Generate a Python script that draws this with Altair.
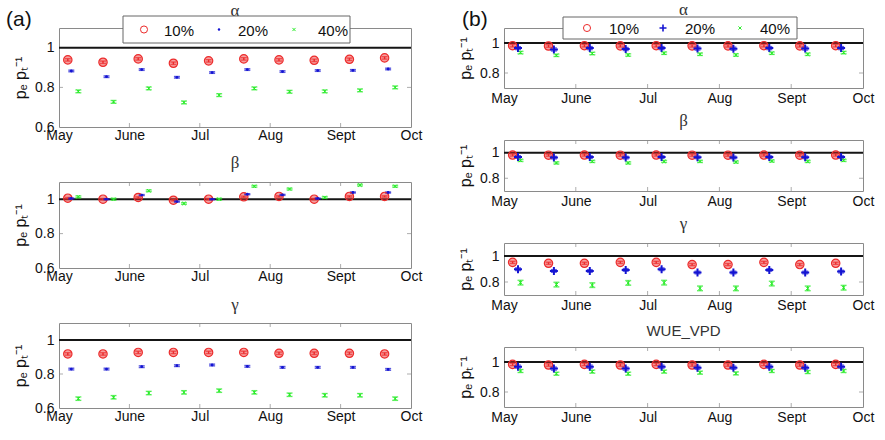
import altair as alt
import pandas as pd

MONTHS = ["May", "June", "Jul", "Aug", "Sept", "Oct"]
SERIES = ["10%", "20%", "40%"]
COLORS = ["#ec2b2b", "#1414d2", "#2cec2c"]
# start of each half-month period, in months after 1 May
PERIODS = [0.0, 0.5, 1.0, 1.5, 2.0, 2.5, 3.0, 3.5, 4.0, 4.5]
OFFSETS_A = [0.125, 0.175, 0.275]
OFFSETS_B = [0.12, 0.195, 0.23]

# ---- (a) ----
A_ALPHA_10 = [0.939, 0.927, 0.944, 0.922, 0.934, 0.944, 0.939, 0.937, 0.942, 0.949]
A_ALPHA_20 = [0.883, 0.854, 0.890, 0.851, 0.875, 0.890, 0.880, 0.885, 0.886, 0.893]
A_ALPHA_40 = [0.780, 0.727, 0.795, 0.724, 0.761, 0.795, 0.778, 0.780, 0.785, 0.800]
A_ALPHA_ERR = [0.006, 0.004, 0.007]

A_BETA_10 = [1.006, 1.000, 1.010, 0.994, 1.000, 1.014, 1.016, 1.000, 1.016, 1.016]
A_BETA_20 = [1.004, 1.000, 1.024, 0.986, 1.000, 1.029, 1.025, 1.004, 1.039, 1.039]
A_BETA_40 = [1.014, 1.000, 1.049, 0.975, 1.000, 1.075, 1.059, 1.010, 1.082, 1.075]
A_BETA_ERR = [0.004, 0.003, 0.005]

A_GAMMA_10 = [0.918, 0.918, 0.927, 0.927, 0.927, 0.927, 0.922, 0.922, 0.922, 0.918]
A_GAMMA_20 = [0.829, 0.829, 0.843, 0.849, 0.853, 0.845, 0.839, 0.839, 0.839, 0.827]
A_GAMMA_40 = [0.655, 0.663, 0.688, 0.692, 0.702, 0.692, 0.678, 0.675, 0.675, 0.655]
A_GAMMA_ERR = [0.007, 0.005, 0.010]

# ---- (b) ----
B_ALPHA_10 = [0.982, 0.980, 0.982, 0.981, 0.982, 0.981, 0.981, 0.982, 0.981, 0.982]
B_ALPHA_20 = [0.966, 0.957, 0.966, 0.960, 0.966, 0.963, 0.962, 0.966, 0.963, 0.966]
B_ALPHA_40 = [0.936, 0.918, 0.930, 0.920, 0.932, 0.925, 0.920, 0.932, 0.925, 0.936]
B_ALPHA_ERR = [0.008, 0.010, 0.008]

B_BETA_10 = [0.982, 0.981, 0.982, 0.981, 0.982, 0.981, 0.981, 0.982, 0.981, 0.982]
B_BETA_20 = [0.966, 0.962, 0.966, 0.962, 0.966, 0.964, 0.963, 0.966, 0.964, 0.966]
B_BETA_40 = [0.940, 0.920, 0.932, 0.920, 0.932, 0.932, 0.927, 0.935, 0.932, 0.940]
B_BETA_ERR = [0.008, 0.010, 0.008]

B_GAMMA_10 = [0.951, 0.944, 0.944, 0.951, 0.951, 0.934, 0.934, 0.951, 0.934, 0.944]
B_GAMMA_20 = [0.898, 0.885, 0.885, 0.893, 0.898, 0.873, 0.873, 0.893, 0.873, 0.880]
B_GAMMA_40 = [0.795, 0.780, 0.776, 0.793, 0.795, 0.751, 0.751, 0.788, 0.751, 0.756]
B_GAMMA_ERR = [0.008, 0.010, 0.018]

B_WUE_10 = [0.984, 0.980, 0.984, 0.980, 0.984, 0.980, 0.980, 0.984, 0.980, 0.984]
B_WUE_20 = [0.969, 0.956, 0.969, 0.956, 0.969, 0.962, 0.962, 0.969, 0.962, 0.969]
B_WUE_40 = [0.940, 0.922, 0.936, 0.922, 0.936, 0.929, 0.924, 0.940, 0.933, 0.940]
B_WUE_ERR = [0.008, 0.010, 0.010]

MONTH_TICKS = [0, 1, 2, 3, 4, 5]
INNER_MONTHS = [1, 2, 3, 4]
YTITLE = "pₑ pₜ⁻¹"

X_PATH = "M-1,-1L1,1M-1,1L1,-1"
PLUS_PATH = "M-1,0L1,0M0,-1L0,1"
ONE = pd.DataFrame({"k": [0]})


def build(v10, v20, v40, errs, offsets):
    rows = []
    for s, vals, e, off, c in zip(SERIES, [v10, v20, v40], errs, offsets, COLORS):
        for p, v in zip(PERIODS, vals):
            rows.append(dict(series=s, x=p + off, y=v, lo=v - e, hi=v + e, col=c))
    return pd.DataFrame(rows)


def legend_layers(box, sym_x, lab_x, cy, styles):
    """Legend box drawn as an annotation on top of the first panel."""
    x0, x1, y0, y1 = box
    layers = [alt.Chart(ONE).mark_rect(fill="white", stroke="#666", strokeWidth=1).encode(
        x=alt.value(x0), x2=alt.value(x1), y=alt.value(y0), y2=alt.value(y1))]
    for s, c, sx, lx, st in zip(SERIES, COLORS, sym_x, lab_x, styles):
        shape, size, filled, sw = st
        layers.append(alt.Chart(ONE).mark_point(shape=shape, size=size, color=c, filled=filled,
                                                strokeWidth=sw, opacity=1).encode(
            x=alt.value(sx), y=alt.value(cy)))
        layers.append(alt.Chart(ONE).mark_text(text=s, align="left", baseline="middle",
                                               font="Liberation Sans", fontSize=15, color="#111").encode(
            x=alt.value(lx), y=alt.value(cy + 1)))
    return layers


def panel(df, title, w, h, ydom, yvals, title_y, title_font, styles, lpad, extra=()):
    xs = alt.Scale(domain=[0, 5], nice=False, zero=False)
    ys = alt.Scale(domain=ydom, nice=False, zero=False)
    xaxis = alt.Axis(values=MONTH_TICKS, labelExpr="['May','June','Jul','Aug','Sept','Oct'][datum.value]",
                     ticks=False, grid=False, domain=False, labelFlush=False, labelOverlap=False,
                     labelPadding=lpad, title=None)
    yaxis = alt.Axis(values=yvals, labelExpr="datum.value == 1 ? '1' : format(datum.value, '.1f')",
                     ticks=False, grid=False, domain=False, labelPadding=5, titlePadding=6,
                     title=YTITLE)

    tk = pd.DataFrame({"tx": INNER_MONTHS * 2, "ty": [ydom[0]] * 4 + [ydom[1]] * 4})
    xticks = alt.Chart(tk).mark_tick(orient="vertical", size=8, thickness=1, color="#8a8a8a", clip=True).encode(
        x=alt.X("tx:Q", scale=xs, axis=xaxis), y=alt.Y("ty:Q", scale=ys, axis=yaxis))
    yt = pd.DataFrame({"tx": [0, 5], "ty": [0.8, 0.8]})
    yticks = alt.Chart(yt).mark_tick(orient="horizontal", size=8, thickness=1, color="#8a8a8a", clip=True).encode(
        x="tx:Q", y="ty:Q")

    ref = alt.Chart(pd.DataFrame({"ref": [1.0]})).mark_rule(color="#151515", strokeWidth=2).encode(y="ref:Q")

    base = alt.Chart(df)
    err = base.mark_rule(strokeWidth=1.4).encode(
        x="x:Q", y="lo:Q", y2="hi:Q", color=alt.Color("col:N", scale=None))
    caps = base.transform_fold(["lo", "hi"], as_=["k", "v"]).mark_tick(
        orient="horizontal", size=6, thickness=1.4).encode(
        x="x:Q", y="v:Q", color=alt.Color("col:N", scale=None))
    redfill = base.transform_filter("datum.series == '10%'").mark_circle(
        color=COLORS[0], opacity=0.45, size=styles[0][1]).encode(x="x:Q", y="y:Q")
    pts = []
    for s, c, st in zip(SERIES, COLORS, styles):
        shape, size, filled, sw = st
        pts.append(base.transform_filter(alt.datum.series == s).mark_point(
            shape=shape, size=size, color=c, filled=filled, strokeWidth=sw, opacity=1).encode(
            x="x:Q", y="y:Q"))

    ttl = alt.Chart(ONE).mark_text(text=title, align="center", baseline="alphabetic",
                                   font=title_font[0], fontSize=title_font[1], color="#333").encode(
        x=alt.value(w / 2), y=alt.value(title_y))

    return alt.layer(xticks, yticks, ref, redfill, err, caps, *pts, ttl, *extra).properties(
        width=w, height=h)


GREEK = ("Liberation Serif", 17)
SANS_T = ("Liberation Sans", 15)

ST_A = [("circle", 70, False, 1.2), ("circle", 8, True, 1), (X_PATH, 12, False, 1)]
ST_B = [("circle", 70, False, 1.2), (PLUS_PATH, 64, False, 2), (X_PATH, 12, False, 1)]
LST_A = [("circle", 50, False, 1), ("circle", 6, True, 1), (X_PATH, 10, False, 1)]
LST_B = [("circle", 50, False, 1), (PLUS_PATH, 49, False, 1.6), (X_PATH, 10, False, 1)]

WA, WB = 352, 359

tag_a = alt.Chart(ONE).mark_text(text="(a)", align="left", baseline="alphabetic", font="Liberation Sans",
                                 fontSize=21, color="#111").encode(x=alt.value(-53), y=alt.value(-2))
tag_b = alt.Chart(ONE).mark_text(text="(b)", align="left", baseline="alphabetic", font="Liberation Sans",
                                 fontSize=21, color="#111").encode(x=alt.value(-42), y=alt.value(-2))

leg_a = legend_layers((64, 291, -12, 15), [85, 160, 235], [105, 179, 259], 1.5, LST_A)
leg_b = legend_layers((59, 293, -11, 11), [83, 159, 236], [105, 181, 256], 0, LST_B)

pa1 = panel(build(A_ALPHA_10, A_ALPHA_20, A_ALPHA_40, A_ALPHA_ERR, OFFSETS_A), "α", WA, 99,
            [0.6, 1.1], [0.6, 0.8, 1.0], -12, GREEK, ST_A, 1, leg_a + [tag_a])
pa2 = panel(build(A_BETA_10, A_BETA_20, A_BETA_40, A_BETA_ERR, OFFSETS_A), "β", WA, 86,
            [0.6, 1.1], [0.6, 0.8, 1.0], -14, GREEK, ST_A, 1)
pa3 = panel(build(A_GAMMA_10, A_GAMMA_20, A_GAMMA_40, A_GAMMA_ERR, OFFSETS_A), "γ", WA, 85,
            [0.6, 1.1], [0.6, 0.8, 1.0], -13, GREEK, ST_A, 1)

pb1 = panel(build(B_ALPHA_10, B_ALPHA_20, B_ALPHA_40, B_ALPHA_ERR, OFFSETS_B), "α", WB, 60,
            [0.7, 1.1], [0.8, 1.0], -13, GREEK, ST_B, 3, leg_b + [tag_b])
pb2 = panel(build(B_BETA_10, B_BETA_20, B_BETA_40, B_BETA_ERR, OFFSETS_B), "β", WB, 51,
            [0.7, 1.1], [0.8, 1.0], -14, GREEK, ST_B, 3)
pb3 = panel(build(B_GAMMA_10, B_GAMMA_20, B_GAMMA_40, B_GAMMA_ERR, OFFSETS_B), "γ", WB, 52,
            [0.7, 1.1], [0.8, 1.0], -14, GREEK, ST_B, 3)
pb4 = panel(build(B_WUE_10, B_WUE_20, B_WUE_40, B_WUE_ERR, OFFSETS_B), "WUE_VPD", WB, 60,
            [0.7, 1.1], [0.8, 1.0], -11, SANS_T, ST_B, 3)

IND = dict(x="independent", y="independent")

colA = alt.vconcat(pa1, pa2, pa3, spacing=55, bounds="flush").resolve_scale(**IND)
colB = alt.vconcat(pb1, pb2, pb3, pb4, spacing=52, bounds="flush").resolve_scale(**IND)

chart = alt.hconcat(colA, colB, spacing=34).resolve_scale(**IND).properties(
    padding={"left": 5, "top": 0, "right": 0, "bottom": 0},
    background="white",
).configure_view(stroke="#8a8a8a", strokeWidth=1).configure_axis(
    labelFont="Liberation Sans", labelFontSize=14, labelColor="#111",
    titleFont="Liberation Sans", titleFontSize=16, titleColor="#111", titleFontWeight="normal",
)

chart.save("out.html", embed_options={"renderer": "svg", "actions": False})
